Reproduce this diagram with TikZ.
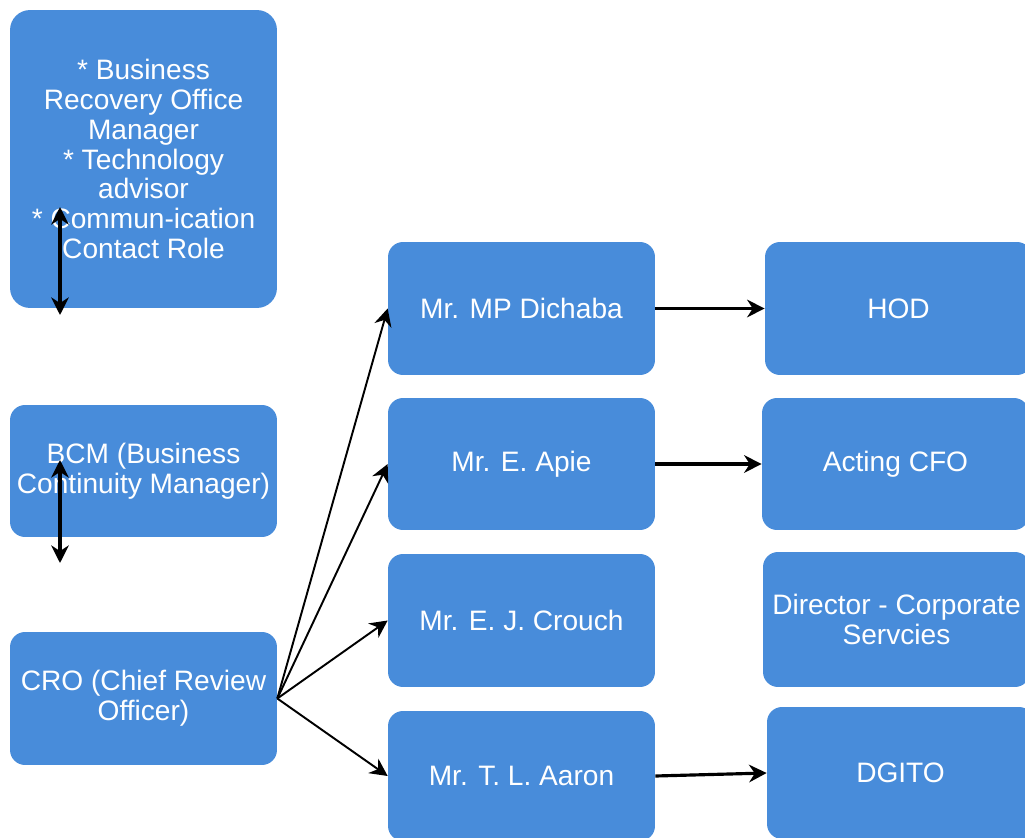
\documentclass[tikz,border=0pt]{standalone}
\usepackage{fontspec}
\setmainfont{Liberation Sans}
\usetikzlibrary{arrows.meta}
\definecolor{boxblue}{RGB}{72,140,218}
\begin{document}
\begin{tikzpicture}[x=0.02cm,y=-0.02cm,>={Stealth[length=10pt,width=10pt]},
	box/.style={fill=boxblue,text=white,rounded corners=0.3cm,minimum width=5.34cm,minimum height=2.66cm,align=center,inner sep=0pt,font=\fontsize{16}{17}\selectfont},
	heavy/.style={<->,line width=2.2pt},
	link/.style={->,line width=1.8pt},
	fan/.style={->,line width=1.1pt}]
		\useasboundingbox (0,0) rectangle (1025,838);
		% left column
		\node[box,minimum height=5.96cm,rounded corners=0.4cm] (roles) at (143.5,159) {* Business\\Recovery Office\\Manager\\* Technology\\advisor\\* Commun-ication\\Contact Role};
		\node[box,minimum height=2.64cm] (bcm) at (143.5,471) {BCM (Business\\Continuity Manager)};
		\node[box] (cro) at (143.5,698.5) {CRO (Chief Review\\Officer)};
		% middle column
		\node[box] (dichaba) at (521.5,308.5) {Mr. MP Dichaba};
		\node[box,minimum height=2.64cm] (apie) at (521.5,464) {Mr. E. Apie};
		\node[box] (crouch) at (521.5,620.5) {Mr. E. J. Crouch};
		\node[box,minimum height=2.6cm] (aaron) at (521.5,776) {Mr. T. L. Aaron};
		% right column
		\node[box] (hod) at (898.5,308.5) {HOD};
		\node[box,minimum height=2.64cm] (cfo) at (895.5,464) {Acting CFO};
		\node[box,minimum height=2.7cm] (director) at (896.5,619.5) {Director - Corporate\\Servcies};
		\node[box,minimum height=2.64cm] (dgito) at (900.5,773) {DGITO};
		% arrows
		\coordinate (r1) at (60,207);
		\coordinate (r2) at (60,315);
		\coordinate (b1) at (60,460);
		\coordinate (b2) at (60,563);
		\draw[heavy] (r1)--(r2);
		\draw[heavy] (b1)--(b2);
		\draw[fan] (cro.east)--(dichaba.west);
		\draw[fan] (cro.east)--(apie.west);
		\draw[fan] (cro.east)--(crouch.west);
		\draw[fan] (cro.east)--(aaron.west);
		\draw[link] (dichaba.east)--(hod.west);
		\draw[link] (apie.east)--(cfo.west);
		\draw[link] (aaron.east)--(dgito.west);
\end{tikzpicture}
\end{document}
